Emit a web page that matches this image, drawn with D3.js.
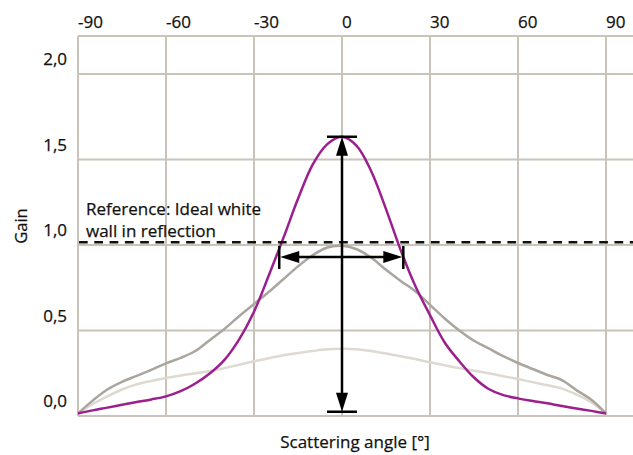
<!DOCTYPE html>
<html>
<head>
<meta charset="utf-8">
<script src="https://d3js.org/d3.v7.min.js"></script>
<style>
    body { margin: 0; background: #fff; }
    #chart-area { width: 633px; height: 455px; }
    text { font-family: "Open Sans", sans-serif; fill: #111; stroke: #111; stroke-width: 0.25px; }
</style>
</head>
<body>
<div id="chart-area"></div>
<script>

// scattering angles in degrees
let angles = [-90, -85, -80, -75, -70, -65, -60, -55, -50, -45, -40, -35, -30, -25, -20, -15, -10, -5, 0,
    5, 10, 15, 20, 25, 30, 35, 40, 45, 50, 55, 60, 65, 70, 75, 80, 85, 90];

// gain values
let gainMagenta = [0.015, 0.033, 0.049, 0.066, 0.082, 0.097, 0.115, 0.145, 0.19, 0.25, 0.33, 0.45, 0.61, 0.82, 1.04, 1.27, 1.47, 1.59, 1.633,
    1.58, 1.43, 1.21, 0.97, 0.76, 0.59, 0.43, 0.32, 0.225, 0.158, 0.122, 0.103, 0.088, 0.074, 0.058, 0.044, 0.03, 0.015];
let gainGrey = [0.015, 0.09, 0.155, 0.2, 0.235, 0.27, 0.308, 0.34, 0.38, 0.445, 0.51, 0.585, 0.655, 0.725, 0.80, 0.875, 0.94, 0.985, 0.995,
    0.975, 0.925, 0.855, 0.79, 0.73, 0.65, 0.57, 0.50, 0.44, 0.395, 0.35, 0.31, 0.275, 0.24, 0.21, 0.15, 0.095, 0.015];
let gainLight = [0.015, 0.07, 0.115, 0.155, 0.185, 0.205, 0.222, 0.237, 0.25, 0.263, 0.28, 0.30, 0.32, 0.338, 0.355, 0.368, 0.38, 0.39, 0.393,
    0.39, 0.38, 0.365, 0.35, 0.333, 0.314, 0.297, 0.28, 0.265, 0.25, 0.233, 0.216, 0.198, 0.18, 0.16, 0.125, 0.08, 0.015];

// ticks
let xTicks = [-90, -60, -30, 0, 30, 60, 90];
let yTicks = [0, 0.5, 1.0, 1.5, 2.0];

// reference line and the two measuring arrows
let referenceGain = 1.016;
let peakArrowGain = [0.025, 1.633];   // vertical arrow at 0 deg
let widthArrowAngle = [-21.4, 20.9];  // horizontal arrow
let widthArrowGain = 0.93;

class GainChart {

    constructor(parentElement) {
        this.parentElement = parentElement;
        this.initVis();
    }

    initVis() {
        let vis = this;

        vis.svg = d3.select("#" + vis.parentElement).append("svg")
            .attr("width", 633)
            .attr("height", 455);

        vis.left = 78;
        vis.right = 633;
        vis.top = 36;

        vis.x = d3.scaleLinear().domain([-90, 90]).range([78, 606]);
        vis.y = d3.scaleLinear().domain([0, 2]).range([416, 74]);

        vis.gridColor = "#c9c3ba";

        // grid
        vis.svg.append("g").selectAll("line.v")
            .data(xTicks)
            .enter().append("line")
            .attr("x1", d => vis.x(d)).attr("x2", d => vis.x(d))
            .attr("y1", vis.top).attr("y2", vis.y(0))
            .attr("stroke", vis.gridColor).attr("stroke-width", 2);

        vis.svg.append("g").selectAll("line.h")
            .data(yTicks.concat([vis.y.invert(vis.top)]))
            .enter().append("line")
            .attr("x1", vis.left).attr("x2", vis.right)
            .attr("y1", d => vis.y(d)).attr("y2", d => vis.y(d))
            .attr("stroke", vis.gridColor).attr("stroke-width", 2);

        // tick labels
        vis.svg.append("g").selectAll("text")
            .data(xTicks)
            .enter().append("text")
            .attr("x", d => vis.x(d))
            .attr("y", 28)
            .attr("font-size", 17)
            .text(d => d);

        vis.svg.append("g").selectAll("text")
            .data(yTicks)
            .enter().append("text")
            .attr("x", 67)
            .attr("y", d => vis.y(d) - 9)
            .attr("text-anchor", "end")
            .attr("font-size", 17)
            .text(d => d3.format(".1f")(d).replace(".", ","));

        // axis titles
        vis.svg.append("text")
            .attr("transform", "translate(27,226) rotate(-90)")
            .attr("text-anchor", "middle")
            .attr("font-size", 16.5)
            .text("Gain");

        vis.svg.append("text")
            .attr("x", 355)
            .attr("y", 448)
            .attr("text-anchor", "middle")
            .attr("font-size", 17)
            .text("Scattering angle [°]");

        vis.updateVis();
    }

    updateVis() {
        let vis = this;

        let line = d3.line()
            .x(d => vis.x(d[0]))
            .y(d => vis.y(d[1]))
            .curve(d3.curveCatmullRom.alpha(0.5));

        let series = [
            {values: gainLight, color: "#ded9d1"},
            {values: gainGrey, color: "#aaa59e"},
            {values: gainMagenta, color: "#9b1f8d"}
        ];

        vis.svg.append("g").selectAll("path")
            .data(series)
            .enter().append("path")
            .attr("d", d => line(angles.map((a, i) => [a, d.values[i]])))
            .attr("fill", "none")
            .attr("stroke", d => d.color)
            .attr("stroke-width", 2.5);

        // reference line
        vis.svg.append("line")
            .attr("x1", vis.left + 1).attr("x2", vis.right)
            .attr("y1", vis.y(referenceGain)).attr("y2", vis.y(referenceGain))
            .attr("stroke", "#111")
            .attr("stroke-width", 2.5)
            .attr("stroke-dasharray", "8.7,6.6");

        let note = vis.svg.append("text")
            .attr("x", 86)
            .attr("y", 215)
            .attr("font-size", 17);
        note.append("tspan").attr("x", 86).text("Reference: Ideal white");
        note.append("tspan").attr("x", 86).attr("dy", 22).text("wall in reflection");

        // arrows
        let arrows = vis.svg.append("g");
        let headLen = 19, headW = 6;

        let px = vis.x(0);
        let yTop = vis.y(peakArrowGain[1]), yBot = vis.y(peakArrowGain[0]);
        arrows.append("line")
            .attr("x1", px).attr("x2", px)
            .attr("y1", yTop + headLen - 2).attr("y2", yBot - headLen + 2)
            .attr("stroke", "#000").attr("stroke-width", 2.5);
        [yTop, yBot].forEach(yy => {
            arrows.append("line")
                .attr("x1", px - 15).attr("x2", px + 15)
                .attr("y1", yy).attr("y2", yy)
                .attr("stroke", "#000").attr("stroke-width", 2.5);
        });
        arrows.append("path")
            .attr("d", `M${px},${yTop}L${px - headW},${yTop + headLen}L${px + headW},${yTop + headLen}Z`)
            .attr("fill", "#000");
        arrows.append("path")
            .attr("d", `M${px},${yBot}L${px - headW},${yBot - headLen}L${px + headW},${yBot - headLen}Z`)
            .attr("fill", "#000");

        let hy = vis.y(widthArrowGain);
        let xl = vis.x(widthArrowAngle[0]), xr = vis.x(widthArrowAngle[1]);
        arrows.append("line")
            .attr("x1", xl + headLen - 2).attr("x2", xr - headLen + 2)
            .attr("y1", hy).attr("y2", hy)
            .attr("stroke", "#000").attr("stroke-width", 2.5);
        [xl, xr].forEach(xx => {
            arrows.append("line")
                .attr("x1", xx).attr("x2", xx)
                .attr("y1", hy - 11).attr("y2", hy + 12)
                .attr("stroke", "#000").attr("stroke-width", 2.5);
        });
        arrows.append("path")
            .attr("d", `M${xl + 1},${hy}L${xl + 1 + headLen},${hy - headW}L${xl + 1 + headLen},${hy + headW}Z`)
            .attr("fill", "#000");
        arrows.append("path")
            .attr("d", `M${xr - 1},${hy}L${xr - 1 - headLen},${hy - headW}L${xr - 1 - headLen},${hy + headW}Z`)
            .attr("fill", "#000");
    }
}

new GainChart("chart-area");

</script>
</body>
</html>
